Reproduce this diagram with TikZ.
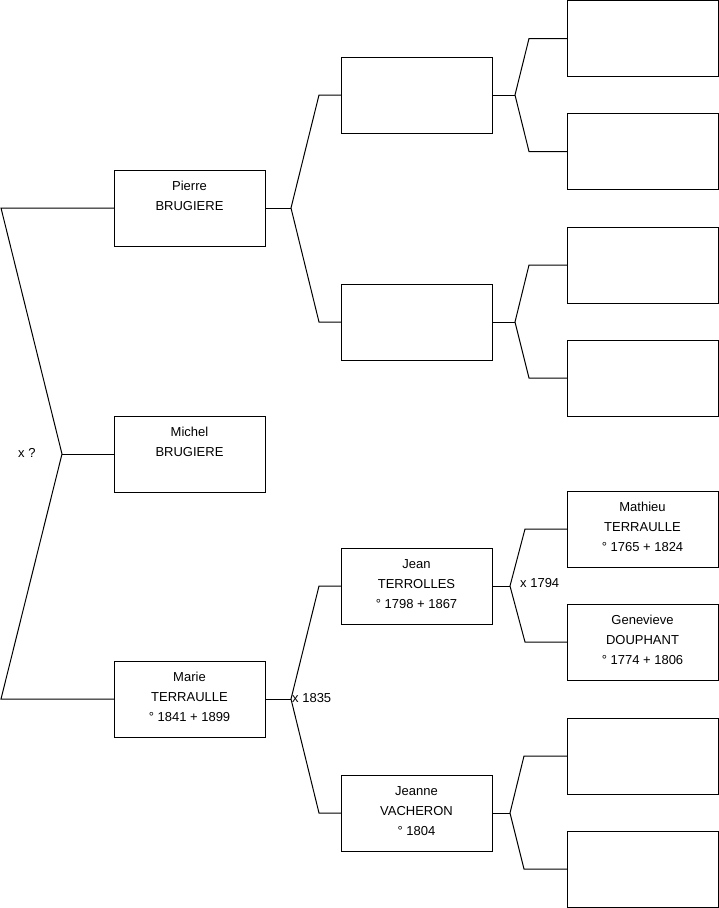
\documentclass[tikz,border=0pt]{standalone}
\usepackage{fontspec}
\setmainfont{Liberation Sans}
\usetikzlibrary{positioning}

\begin{document}
\begin{tikzpicture}[x=1pt, y=-1pt,
    person/.style={draw, line width=1pt, align=center, minimum width=151pt, minimum height=76pt, inner sep=0pt, outer sep=0pt, text depth=4pt, anchor=north west, font=\fontsize{13}{20}\selectfont},
    link/.style={line width=1pt},
    union/.style={anchor=west, inner sep=1pt, font=\fontsize{13}{20}\selectfont}
]
\useasboundingbox (0,0) rectangle (719,908);
% generation 1
\node[person] (pierre) at (114,170) {Pierre\\BRUGIERE\\\mbox{}};
\node[person, below=170pt of pierre] (michel) {Michel\\BRUGIERE\\\mbox{}};
\node[person, below=169pt of michel] (marie) {Marie\\TERRAULLE\\° 1841 + 1899};
% generation 2
\node[person] (pA) at (341,57) {};
\node[person, below=151pt of pA] (pB) {};
\node[person] (jean) at (341,548) {Jean\\TERROLLES\\° 1798 + 1867};
\node[person, below=151pt of jean] (jeanne) {Jeanne\\VACHERON\\° 1804};
% generation 3
\node[person] (gA1) at (567,0.5) {};
\node[person, below=37pt of gA1] (gA2) {};
\node[person] (gB1) at (567,227) {};
\node[person, below=37pt of gB1] (gB2) {};
\node[person] (mathieu) at (567,491) {Mathieu\\TERRAULLE\\° 1765 + 1824};
\node[person, below=37pt of mathieu] (genevieve) {Genevieve\\DOUPHANT\\° 1774 + 1806};
\node[person] (gD1) at (567,718) {};
\node[person, below=37pt of gD1] (gD2) {};

% forks
\coordinate (fm) at (62,454);
\coordinate (ptop) at (1,208);
\coordinate (pbot) at (1,699);
\draw[link] (pierre.west) -- (ptop) -- (fm) -- (pbot) -- (marie.west);
\draw[link] (fm) -- (michel.west);
\node[union] (xq) at (17,453) {x ?};

\coordinate (fp) at ([xshift=26pt]pierre.east);
\draw[link] (pierre.east) -- (fp);
\draw[link] (pA.west) -- ([xshift=-22pt]pA.west) -- (fp) -- ([xshift=-22pt]pB.west) -- (pB.west);

\coordinate (fr) at ([xshift=26pt]marie.east);
\draw[link] (marie.east) -- (fr);
\draw[link] (jean.west) -- ([xshift=-22pt]jean.west) -- (fr) -- ([xshift=-22pt]jeanne.west) -- (jeanne.west);
\node[union] (x1835) at (291,698) {x 1835};

\coordinate (fa) at ([xshift=23pt]pA.east);
\draw[link] (pA.east) -- (fa);
\draw[link] (gA1.west) -- ([xshift=-38pt]gA1.west) -- (fa) -- ([xshift=-38pt]gA2.west) -- (gA2.west);

\coordinate (fb) at ([xshift=23pt]pB.east);
\draw[link] (pB.east) -- (fb);
\draw[link] (gB1.west) -- ([xshift=-38pt]gB1.west) -- (fb) -- ([xshift=-38pt]gB2.west) -- (gB2.west);

\coordinate (fj) at ([xshift=18pt]jean.east);
\draw[link] (jean.east) -- (fj);
\draw[link] (mathieu.west) -- ([xshift=-42pt]mathieu.west) -- (fj) -- ([xshift=-42pt]genevieve.west) -- (genevieve.west);
\node[union] (x1794) at (519,583) {x 1794};

\coordinate (fd) at ([xshift=18pt]jeanne.east);
\draw[link] (jeanne.east) -- (fd);
\draw[link] (gD1.west) -- ([xshift=-43pt]gD1.west) -- (fd) -- ([xshift=-43pt]gD2.west) -- (gD2.west);
\end{tikzpicture}
\end{document}
